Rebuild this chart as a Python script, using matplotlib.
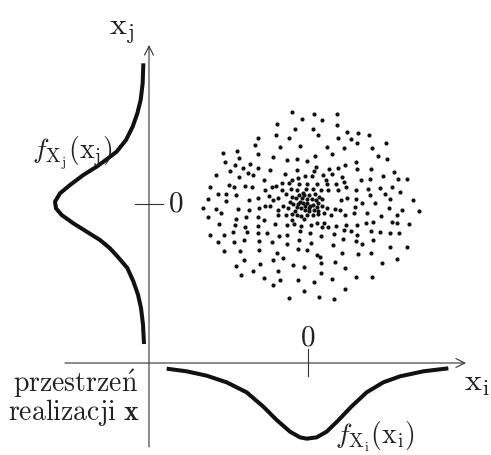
import matplotlib
matplotlib.use('Agg')
import matplotlib.pyplot as plt
import numpy as np

plt.rcParams['mathtext.fontset'] = 'cm'
plt.rcParams['font.family'] = 'serif'

# realizations of the random vector x = (x_i, x_j)
sample_x = [
    -49, 19, 88, -19, 41,
    -92, 86, -40, 14, 118, 149, 184,
    -97, 30, -150, -56, 90, 128, 146, 234,
    -160, -24, -84, 56, 107, 193, -212, -254,
    -151, 73, -104, 21, 210, -206, -33, -63, 238, -248, -3, 144, -175,
    -219, 112, 23, -196, -149, -115, 63, 89, 147, 190, 258, -233, -34, 18,
    -276, -179, -208, -166, -69, -29, -9, 11, 45, 73, 103, 224, 269, 298,
    -133, -49, 54, 109, 158, 187, -56, -79,
    -294, -236, -221, -190, -167, -108, -96, -27, -2, 27, 56, 84, 114, 144,
    181, 215, 251, 275, -269, -246, -215, -128, -78, -52, -34, -6, 16, 40, 60, 89,
    -299, -178, -151, -118, -106, -91, -65, -47, -28, -12, 3, 20, 32, 41, 98,
    117, 143, 187, 230, 247, 315, -246,
    -316, -276, -262, -209, -178, -147, -130, -114, -91, -75, -61, -44, -34,
    -24, -14, -2, 6, 16, 29, 41, 58, 81, 96, 142, 161, 201, 242, 283, 332,
    -40, -21, -9, 3, 18, 31,
    -36, -19, -4, 11, 24, -29, -9, 4, -54, 26, -16,
    -299, -217, -186, -151, -132, -90, -65, -49, -34, -22, -2, 14, 31, 48, 70,
    110, 138, 176, 218, 266, -48, -11,
    -266, -219, -188, -149, -99, -64, -42, -22, 8, 26, 48, 60, 83, 115, 146,
    173, 195, 251, 266, 304, 41,
    -294, -252, -224, -182, -150, -122, -88, -64, -24, 6, 40, 78, 108, 129,
    146, 188, 215, 246, 272,
    -269, -223, -192, -146, -108, -64, -28, 8, 75, 106, 144, 162, 195, 245, 296,
    -251, -205, -147, -94, -76, -30, -3, 26, 36, 103, 150, 190, 266,
    -217, -192, -166, -144, -106, -45, -12, 40, 80, 112, 223,
    -202, -132, -89, -84, -29, 19, 40, 72, 143, 192,
    -106, -12, 112, -56, 33, 77,
]
sample_y = [
    277, 270, 270, 254, 252,
    240, 238, 224, 224, 215, 212, 208,
    207, 206, 197, 197, 197, 194, 182, 182,
    177, 175, 172, 170, 167, 167, 160, 152,
    150, 150, 142, 144, 144, 137, 134, 132, 134, 126, 128, 126, 120,
    116, 116, 112, 107, 107, 102, 104, 107, 104, 104, 97, 98, 102, 99,
    87, 92, 80, 87, 90, 77, 84, 84, 86, 90, 80, 84, 76, 75,
    72, 72, 72, 67, 72, 76, 64, 64,
    50, 57, 50, 54, 50, 50, 54, 60, 59, 60, 59, 60, 50, 42,
    44, 47, 50, 37, 29, 30, 27, 42, 42, 46, 42, 44, 44, 42, 42, 42,
    16, 12, 17, 24, 11, 17, 30, 22, 28, 27, 27, 30, 22, 16, 12,
    17, 14, 27, 30, 14, 12, 9,
    -11, -15, -28, -14, -18, -13, -6, -6, -18, -6, -13, 0, -8,
    7, 2, 4, -6, -3, 2, -6, -13, -16, -18, -10, 2, 2, -13, -18, -20,
    -20, -13, -18, -21, -18, -20,
    17, 17, 15, 14, 12, 0, -6, -13, 7, -10, 32,
    -40, -46, -40, -38, -48, -33, -33, -31, -33, -36, -33, -33, -31, -28, -33,
    -33, -26, -28, -36, -33, -48, -46,
    -61, -63, -68, -66, -60, -63, -60, -66, -64, -56, -56, -68, -66, -62, -63,
    -56, -54, -55, -56, -61, -70,
    -93, -93, -84, -84, -86, -86, -96, -92, -80, -88, -96, -90, -78, -80,
    -94, -82, -84, -86, -88,
    -113, -114, -108, -110, -114, -120, -108, -118, -123, -104, -112, -120, -108, -128, -128,
    -142, -140, -138, -148, -162, -135, -138, -153, -158, -146, -150, -148, -166,
    -185, -168, -202, -181, -168, -184, -188, -178, -174, -192, -178,
    -213, -223, -200, -228, -228, -233, -208, -226, -218, -218,
    -244, -260, -256, -281, -280, -286,
]

# marginal density of x_j: position along the axis and curve height
fj_pos = [422, 362, 312, 272, 232, 192, 157, 134, 112, 87, 57, 32, 7,
          -13, -33, -58, -83, -108, -133, -157, -192, -232, -272, -312, -362, -420]
fj_val = [14, 16, 22, 32, 46, 66, 94, 124, 154, 194, 234, 264, 279,
          276, 259, 224, 184, 144, 114, 92, 62, 44, 30, 21, 15, 12]

# marginal density of x_i
fi_pos = [-424, -364, -304, -244, -184, -134, -94, -54, -24, -4,
          26, 56, 90, 130, 176, 226, 276, 346, 421]
fi_val = [14, 22, 35, 55, 85, 128, 168, 203, 220, 224,
          220, 203, 170, 128, 85, 55, 37, 22, 13]


def draw_axes(ax, origin, x_end, y_end, x_start, y_start):
    arrow = dict(arrowstyle='->', lw=0.8, color='#333333', mutation_scale=16,
                 shrinkA=0, shrinkB=0)
    ax.annotate('', xy=(x_end, origin), xytext=(x_start, origin), arrowprops=arrow)
    ax.annotate('', xy=(origin, y_end), xytext=(origin, y_start), arrowprops=arrow)
    # zero ticks on both axes
    ax.plot([0, 0], [origin + 42, origin - 39], color='#333333', lw=0.8)
    ax.plot([origin - 42, origin + 42], [0, 0], color='#333333', lw=0.8)


if __name__ == '__main__':
    fig = plt.figure(figsize=(4.91, 4.55), dpi=100)
    ax = fig.add_axes([0, 0, 1, 1])
    ax.set_xlim(-924, 549)
    ax.set_ylim(-753, 612)
    ax.axis('off')

    origin = -477
    draw_axes(ax, origin, x_end=474, y_end=477, x_start=-729, y_start=-729)

    ax.scatter(sample_x, sample_y, s=9, c='#111111', linewidths=0)

    base = -480
    ax.plot(base - np.asarray(fj_val), fj_pos, color='#111111', lw=2.9,
            solid_capstyle='butt', solid_joinstyle='round')
    ax.plot(fi_pos, base - np.asarray(fi_val), color='#111111', lw=2.9,
            solid_capstyle='butt', solid_joinstyle='round')

    txt = dict(color='#222222')
    ax.text(0, -399, '$0$', fontsize=21, ha='center', va='center', **txt)
    ax.text(-396, 0, '$0$', fontsize=21, ha='center', va='center', **txt)
    ax.text(-558, 522, r'$\mathrm{x_j}$', fontsize=23, ha='center', va='center', **txt)
    ax.text(507, -537, r'$\mathrm{x_i}$', fontsize=23, ha='center', va='center', **txt)
    ax.text(-708, 153, r'$f_{\mathrm{X_j}}(\mathrm{x_j})$', fontsize=20,
            ha='center', va='center', **txt)
    ax.text(201, -699, r'$f_{\mathrm{X_i}}(\mathrm{x_i})$', fontsize=20,
            ha='center', va='center', **txt)
    ax.text(-510, -564, r'$\mathrm{przestrze\acute{n}}$', fontsize=20,
            ha='right', va='baseline', **txt)
    ax.text(-504, -648, r'$\mathrm{realizacji}\ \mathbf{x}$', fontsize=20,
            ha='right', va='baseline', **txt)

    fig.savefig('out.png', dpi=100, facecolor='white')
